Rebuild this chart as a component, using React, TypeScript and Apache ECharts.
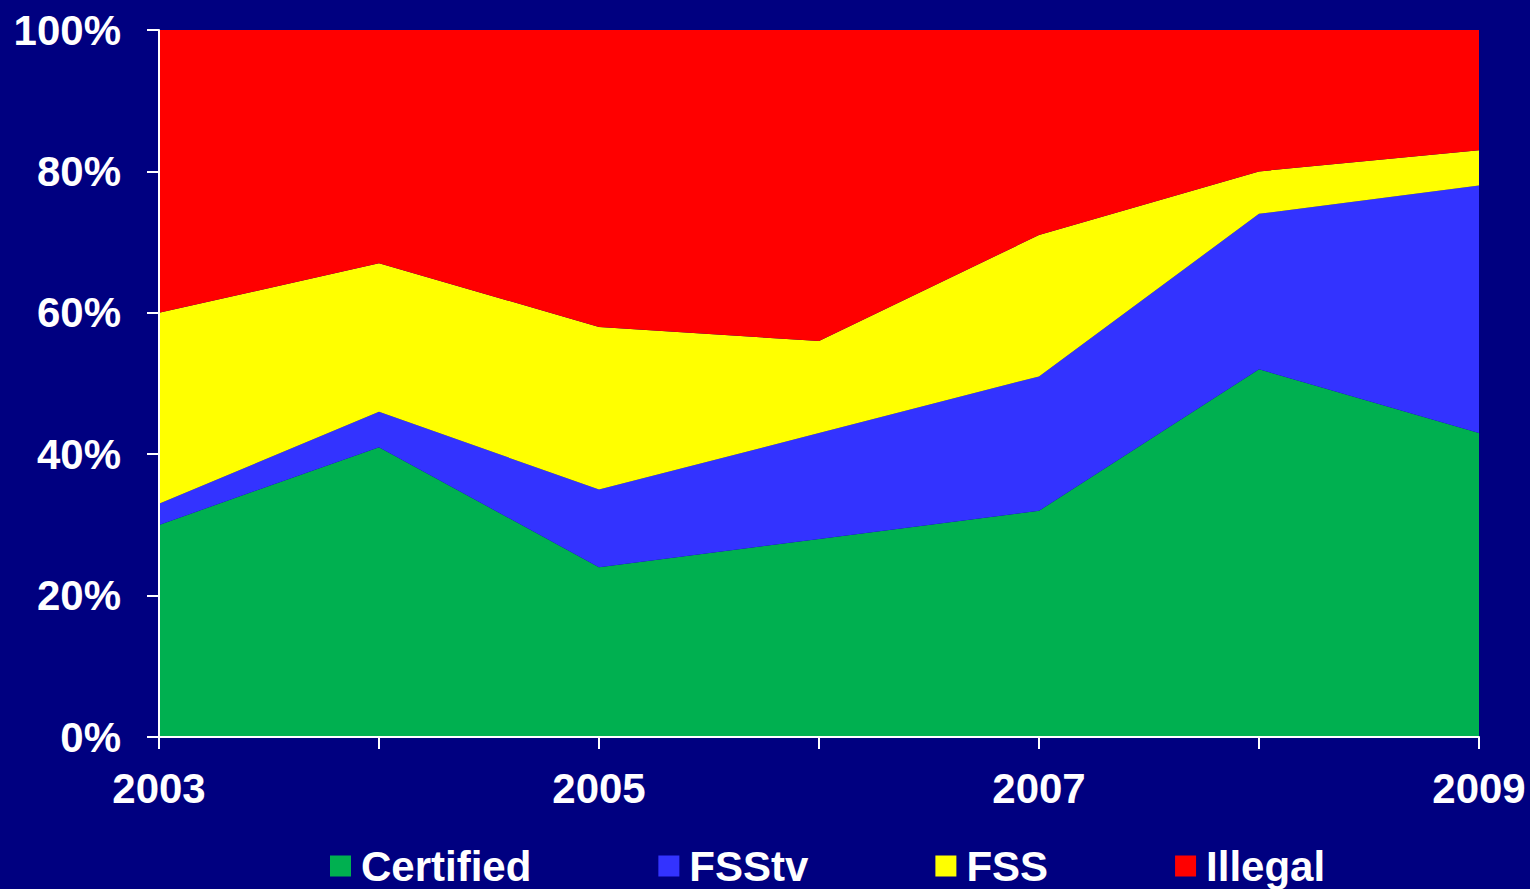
import React, { useEffect, useRef } from "react";
import * as echarts from "echarts";

const years = ["2003", "2004", "2005", "2006", "2007", "2008", "2009"];
const certified = [30, 41, 24, 28, 32, 52, 43];
const fsstv = [3, 5, 11, 15, 19, 22, 35];
const fss = [27, 21, 23, 13, 20, 6, 5];
const illegal = [40, 33, 42, 44, 29, 20, 17];
const yTicks = [0, 20, 40, 60, 80, 100];

const FONT = "'Liberation Sans', Arial, sans-serif";

export default function App() {
  const ref = useRef<HTMLDivElement>(null);
  useEffect(() => {
    if (!ref.current) return;
    const chart = echarts.init(ref.current, undefined, { renderer: "svg" });
    const mk = (name: string, data: number[], color: string) => ({
      name,
      type: "line",
      stack: "total",
      data,
      symbol: "none",
      lineStyle: { width: 0, color },
      itemStyle: { color },
      areaStyle: { color, opacity: 1 },
    });
    chart.setOption({
      animation: false,
      backgroundColor: "#000080",
      grid: { left: 159, right: 51, top: 30, bottom: 152, containLabel: false },
      xAxis: {
        type: "category",
        data: years,
        boundaryGap: false,
        axisLine: { show: true, lineStyle: { color: "#ffffff", width: 2 } },
        axisTick: { show: true, interval: 0, length: 12, lineStyle: { color: "#ffffff", width: 2 } },
        axisLabel: {
          interval: 1,
          color: "#ffffff",
          fontSize: 42,
          fontWeight: "bold",
          fontFamily: FONT,
          margin: 30,
        },
        splitLine: { show: false },
        z: 10,
      },
      yAxis: {
        type: "value",
        min: yTicks[0],
        max: yTicks[yTicks.length - 1],
        interval: 20,
        axisLine: { show: true, lineStyle: { color: "#ffffff", width: 2 } },
        axisTick: { show: true, length: 12, lineStyle: { color: "#ffffff", width: 2 } },
        axisLabel: {
          color: "#ffffff",
          fontSize: 42,
          fontWeight: "bold",
          fontFamily: FONT,
          margin: 38,
          formatter: "{value}%",
        },
        splitLine: { show: false },
        z: 10,
      },
      legend: {
        left: 330,
        top: 845,
        padding: 0,
        icon: "rect",
        itemWidth: 21,
        itemHeight: 21,
        itemGap: 127,
        textStyle: {
          color: "#ffffff",
          fontSize: 42,
          lineHeight: 40,
          fontWeight: "bold",
          fontFamily: FONT,
          padding: [0, 0, 0, 5],
        },
        data: ["Certified", "FSStv", "FSS", "Illegal"],
      },
      series: [
        mk("Certified", certified, "#00B050"),
        mk("FSStv", fsstv, "#3333FF"),
        mk("FSS", fss, "#FFFF00"),
        mk("Illegal", illegal, "#FF0000"),
      ],
    });
    return () => chart.dispose();
  }, []);
  return <div ref={ref} style={{ width: 1530, height: 889, position: "fixed", left: 0, top: 0 }} />;
}
